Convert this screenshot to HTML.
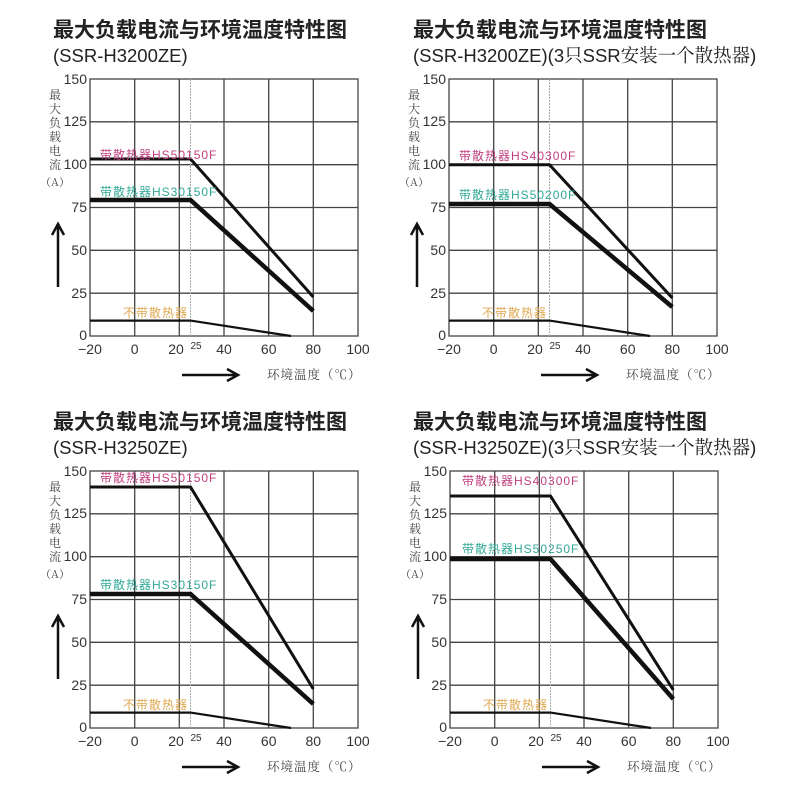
<!DOCTYPE html>
<html><head><meta charset="utf-8"><style>
html,body{margin:0;padding:0;background:#fff;}
svg{display:block;}
.t{font-family:"Liberation Sans","Noto Sans CJK SC",sans-serif;font-weight:bold;font-size:21px;fill:#222;}
.s{font-family:"Liberation Sans","Noto Serif CJK SC",sans-serif;font-size:18.5px;fill:#222;}
.tk{font-family:"Liberation Sans",sans-serif;font-size:14px;fill:#333;}
.v{font-family:"Noto Serif CJK SC",serif;font-size:12px;fill:#444;}
.g{stroke:#444;stroke-width:1.3;fill:none;}
.lb{font-family:"Liberation Sans","Noto Sans CJK SC",sans-serif;font-size:12px;letter-spacing:1px;}
</style></head><body>
<svg width="800" height="800" xmlns="http://www.w3.org/2000/svg">
<defs>
<g id="grid">
<rect x="0" y="0" width="268" height="257" class="g"/>
<path class="g" d="M44.7 0V257M89.3 0V257M134 0V257M178.7 0V257M223.3 0V257M0 42.8H268M0 85.7H268M0 128.5H268M0 171.3H268M0 214.2H268"/>
<path d="M100.5 0V257" stroke="#aaa" stroke-width="1" stroke-dasharray="2,1"/>
<g class="tk" text-anchor="end">
<text x="-3" y="5">150</text><text x="-3" y="47">125</text><text x="-3" y="90">100</text><text x="-3" y="133">75</text><text x="-3" y="176">50</text><text x="-3" y="219">25</text><text x="-3" y="261">0</text>
</g>
<g class="tk" text-anchor="middle">
<text x="0" y="275">−20</text><text x="44.7" y="275">0</text><text x="86" y="275">20</text><text x="134" y="275">40</text><text x="178.7" y="275">60</text><text x="223.3" y="275">80</text><text x="268" y="275">100</text>
<text x="106" y="270" style="font-size:10px">25</text>
</g>
<g class="v" text-anchor="middle">
<text x="-35" y="20">最</text><text x="-35" y="34">大</text><text x="-35" y="48">负</text><text x="-35" y="62">载</text><text x="-35" y="76">电</text><text x="-35" y="90">流</text><text x="-35" y="107" style="font-size:11px">（A）</text>
</g>
<path d="M-32 208V146M-38 156L-32 145L-26 156" stroke="#111" stroke-width="2.5" fill="none"/>
<path d="M92 296H147M137 290L148 296L137 302" stroke="#111" stroke-width="2.5" fill="none"/>
<text x="177" y="300" class="v" style="font-size:12.5px;letter-spacing:1px">环境温度（℃）</text>
<path d="M0 241.6H100.5L201 257" stroke="#111" stroke-width="2.2" fill="none"/>
<text x="33" y="238" class="lb" fill="#dfa850">不带散热器</text>
</g>
</defs>

<!-- TL -->
<g transform="translate(90,79)">
<text x="-37" y="-42" class="t">最大负载电流与环境温度特性图</text>
<text x="-37" y="-17" class="s">(SSR-H3200ZE)</text>
<use href="#grid"/>
<path d="M0 80H100.5L223.3 218" stroke="#111" stroke-width="3" fill="none"/>
<path d="M0 121H100.5L223.3 232" stroke="#111" stroke-width="4.5" fill="none"/>
<text x="10" y="80" class="lb" fill="#c0407f">带散热器HS50150F</text>
<text x="10" y="117" class="lb" fill="#30a896">带散热器HS30150F</text>
</g>

<!-- TR -->
<g transform="translate(449,79)">
<text x="-36" y="-42" class="t">最大负载电流与环境温度特性图</text>
<text x="-36" y="-17" class="s">(SSR-H3200ZE)(3只SSR安装一个散热器)</text>
<use href="#grid"/>
<path d="M0 85.7H100.5L223.3 219" stroke="#111" stroke-width="3" fill="none"/>
<path d="M0 125H100.5L223.3 228" stroke="#111" stroke-width="4.5" fill="none"/>
<text x="10" y="81" class="lb" fill="#c0407f">带散热器HS40300F</text>
<text x="10" y="120" class="lb" fill="#30a896">带散热器HS50200F</text>
</g>

<!-- BL -->
<g transform="translate(90,471)">
<text x="-37" y="-42" class="t">最大负载电流与环境温度特性图</text>
<text x="-37" y="-17" class="s">(SSR-H3250ZE)</text>
<use href="#grid"/>
<path d="M0 16H100.5L223.3 218" stroke="#111" stroke-width="3" fill="none"/>
<path d="M0 123H100.5L223.3 233" stroke="#111" stroke-width="4.5" fill="none"/>
<text x="10" y="11" class="lb" fill="#c0407f">带散热器HS50150F</text>
<text x="10" y="118" class="lb" fill="#30a896">带散热器HS30150F</text>
</g>

<!-- BR -->
<g transform="translate(450,471)">
<text x="-37" y="-42" class="t">最大负载电流与环境温度特性图</text>
<text x="-37" y="-17" class="s">(SSR-H3250ZE)(3只SSR安装一个散热器)</text>
<use href="#grid"/>
<path d="M0 25H100.5L223.3 219" stroke="#111" stroke-width="3" fill="none"/>
<path d="M0 88H100.5L223.3 228" stroke="#111" stroke-width="4.5" fill="none"/>
<text x="12" y="14" class="lb" fill="#c0407f">带散热器HS40300F</text>
<text x="12" y="82" class="lb" fill="#30a896">带散热器HS50250F</text>
</g>
</svg>
</body></html>
